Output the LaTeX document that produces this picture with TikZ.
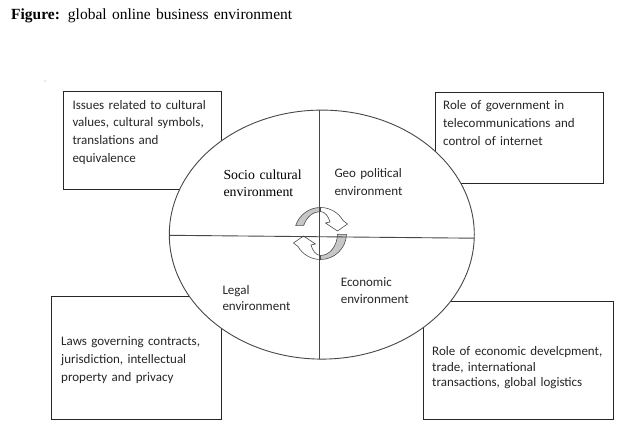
\documentclass[tikz,border=0pt]{standalone}
\usepackage{fontspec}
\setmainfont{Liberation Serif}
\newfontfamily\calib{Carlito}
\usetikzlibrary{shapes.geometric}
\tikzset{
  boxst/.style={draw=black!85, line width=0.9pt, fill=white, inner sep=0pt, anchor=north west},
  boxtxt/.style={font=\calib\fontsize{13}{#1}\selectfont, text=black!85, anchor=base west, inner sep=0pt, align=left, text width=190pt},
  boxtxt/.default=17.7,
  outline/.style={draw=black!72, line width=0.9pt},
  icon/.style={draw=black!70, line width=0.6pt},
}
\begin{document}
\begin{tikzpicture}[x=1pt,y=-1pt]
\fill[white] (0,0) rectangle (625,444);
\useasboundingbox (0,0) rectangle (625,444);

% title
\node[anchor=base west, inner sep=0pt, font=\fontsize{15.5}{18}\selectfont] (title) at (11,19.3)
  {\makebox[281pt][s]{\textbf{Figure:} global online business environment}};
\fill[blue!30!gray!60] (45,81) circle[radius=0.7];

% boxes
\node[boxst, minimum width=158, minimum height=98] (b1) at (63,91) {};
\node[boxst, minimum width=168, minimum height=91] (b2) at (434.5,92) {};
\node[boxst, minimum width=170, minimum height=123] (b3) at (51,296) {};
\node[boxst, minimum width=190, minimum height=118] (b4) at (423.3,301) {};

\node[boxtxt] (t1) at (72.3,109.3) {Issues related to cultural\\values, cultural symbols,\\translations and\\equivalence};
\node[boxtxt=18] (t2) at (443,109.3) {Role of government in\\telecommunications and\\control of internet};
\node[boxtxt=18] (t3) at (61,345.3) {Laws governing contracts,\\jurisdiction, intellectual\\property and privacy};
\node[boxtxt=16] (t4) at (432,355) {Role of economic develcpment,\\trade, international\\transactions, global logistics};

% ellipse
\node[outline, ellipse, fill=white, minimum width=305, minimum height=249, inner sep=0pt] (E) at (321.8,234.6) {};

% circular arrows icon
\begin{scope}[shift={(320.5,233.5)}, yscale=-1]
  \draw[icon, fill=black!22] (162:26) arc[start angle=162, end angle=90, radius=26]
     -- (0,22) arc[start angle=90, end angle=158, x radius=18, y radius=22] -- cycle;
  \draw[icon, fill=white] (0,26) arc[start angle=90, end angle=30, radius=26]
     -- (27,9.5) -- (17,2.5) -- (5,10.5) -- (9.5,11.5) .. controls (8,17) and (4.5,22) .. (0,22) -- cycle;
  \begin{scope}[rotate=180]
    \draw[icon, fill=black!22] (178:26) arc[start angle=178, end angle=90, radius=26]
       -- (0,22) arc[start angle=90, end angle=178, x radius=17, y radius=22] -- cycle;
    \draw[icon, fill=white] (0,26) arc[start angle=90, end angle=30, radius=26]
       -- (27,9.5) -- (17,2.5) -- (5,10.5) -- (9.5,11.5) .. controls (8,17) and (4.5,22) .. (0,22) -- cycle;
  \end{scope}
\end{scope}

% dividing lines
\coordinate (hl) at (169.5,235.3);
\coordinate (hr) at (474.3,238.2);
\coordinate (vt) at (319.5,110.3);
\coordinate (vb) at (319.5,359);
\draw[outline] (hl) -- (hr);
\draw[outline] (vt) -- (vb);

% ellipse labels
\node[anchor=base west, inner sep=0pt, align=left, text width=100pt, font=\rmfamily\fontsize{13.8}{17.4}\selectfont] (sc) at (223.3,179.3) {Socio cultural\\environment};
\node[boxtxt=17.6] (gp) at (334.3,177.7) {Geo political\\environment};
\node[boxtxt=16.7] (lg) at (222.3,294) {Legal\\environment};
\node[boxtxt=17] (ec) at (340.7,286.3) {Economic\\environment};
\end{tikzpicture}
\end{document}
